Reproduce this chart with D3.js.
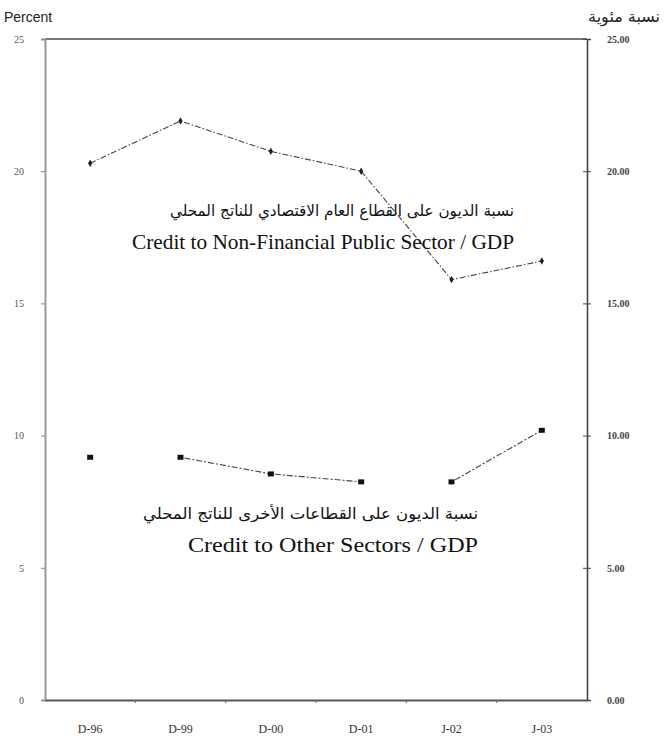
<!DOCTYPE html>
<html>
<head>
<meta charset="utf-8">
<script src="https://cdn.jsdelivr.net/npm/d3@7"></script>
<style>
  body { margin: 0; background: #fff; }
  svg { display: block; }
</style>
</head>
<body>
<svg id="chart"></svg>
<script>
const width = 664;
const height = 742;
const margin = { top: 39, right: 77, bottom: 42, left: 45 };

// data
const periods = ["D-96", "D-99", "D-00", "D-01", "J-02", "J-03"];
const publicSector = [20.3, 21.9, 20.75, 20.0, 15.9, 16.6];
const otherSectors = [9.18, 9.18, 8.55, 8.25, 8.25, 10.2];
// which neighbouring points of the other-sectors series are joined
const otherJoined = [false, true, true, false, true];

const leftTicks = [0, 5, 10, 15, 20, 25];
const rightTickLabels = ["0.00", "5.00", "10.00", "15.00", "20.00", "25.00"];

const publicLabelAr = "نسبة الديون على القطاع العام الاقتصادي للناتج المحلي";
const publicLabelEn = "Credit to Non-Financial Public Sector / GDP";
const otherLabelAr = "نسبة الديون على القطاعات الأخرى للناتج المحلي";
const otherLabelEn = "Credit to Other Sectors / GDP";

const svg = d3.select("#chart")
  .attr("width", width)
  .attr("height", height)
  .attr("viewBox", [0, 0, width, height]);

const x = d3.scaleBand()
  .domain(periods)
  .range([margin.left, width - margin.right]);

const y = d3.scaleLinear()
  .domain([0, 25])
  .range([height - margin.bottom, margin.top]);

const cx = d => x(d) + x.bandwidth() / 2;

// frame: top line
svg.append("line")
  .attr("x1", margin.left).attr("x2", width - margin.right)
  .attr("y1", y(25)).attr("y2", y(25))
  .attr("stroke", "#777").attr("stroke-width", 2);

// left axis
const gLeft = svg.append("g")
  .attr("transform", `translate(${margin.left},0)`)
  .call(d3.axisLeft(y).tickValues(leftTicks).tickSize(4).tickPadding(17).tickFormat(d3.format("d")));
gLeft.select(".domain").attr("stroke", "#999").attr("stroke-width", 2);
gLeft.selectAll(".tick line").attr("stroke", "#888");
gLeft.selectAll(".tick text")
  .attr("font-family", "Liberation Serif, serif")
  .attr("font-size", 10)
  .attr("fill", "#555");

// right axis
const gRight = svg.append("g")
  .attr("transform", `translate(${width - margin.right},0)`)
  .call(d3.axisRight(y).tickValues(leftTicks).tickSize(4).tickPadding(16)
    .tickFormat((d, i) => rightTickLabels[i]));
gRight.select(".domain").attr("stroke", "#444").attr("stroke-width", 1.6);
gRight.selectAll(".tick line").attr("x1", -4).attr("stroke", "#444");
gRight.selectAll(".tick text")
  .attr("font-family", "Liberation Serif, serif")
  .attr("font-size", 10)
  .attr("font-weight", "bold")
  .attr("fill", "#444");

// bottom axis, ticks on band edges
const gBottom = svg.append("g")
  .attr("transform", `translate(0,${y(0)})`)
  .call(d3.axisBottom(x).tickSize(0).tickPadding(24));
gBottom.select(".domain").attr("stroke", "#555").attr("stroke-width", 2);
gBottom.selectAll(".tick text")
  .attr("font-family", "Liberation Serif, serif")
  .attr("font-size", 12)
  .attr("fill", "#333");
gBottom.selectAll(".edge")
  .data(periods.slice(1))
  .join("line")
  .attr("x1", d => x(d)).attr("x2", d => x(d))
  .attr("y1", 0).attr("y2", 3)
  .attr("stroke", "#666");

// public sector series
const line = d3.line()
  .x(d => cx(d.period))
  .y(d => y(d.value));

const publicData = periods.map((p, i) => ({ period: p, value: publicSector[i] }));
const otherData = periods.map((p, i) => ({ period: p, value: otherSectors[i] }));

svg.append("path")
  .datum(publicData)
  .attr("fill", "none")
  .attr("stroke", "#444")
  .attr("stroke-width", 1.1)
  .attr("stroke-dasharray", "6,2,1.5,2")
  .attr("d", line);

svg.selectAll(".pub-dot")
  .data(publicData)
  .join("path")
  .attr("class", "pub-dot")
  .attr("d", d3.symbol(d3.symbolDiamond, 16))
  .attr("transform", d => `translate(${cx(d.period)},${y(d.value)})`)
  .attr("fill", "#222");

// other sectors series, drawn segment by segment
const otherSegments = otherJoined
  .map((joined, i) => joined ? [otherData[i], otherData[i + 1]] : null)
  .filter(s => s);

svg.selectAll(".other-seg")
  .data(otherSegments)
  .join("path")
  .attr("class", "other-seg")
  .attr("fill", "none")
  .attr("stroke", "#444")
  .attr("stroke-width", 1.1)
  .attr("stroke-dasharray", "2,2,6,2")
  .attr("d", line);

svg.selectAll(".other-dot")
  .data(otherData)
  .join("rect")
  .attr("class", "other-dot")
  .attr("x", d => cx(d.period) - 3)
  .attr("y", d => y(d.value) - 2.5)
  .attr("width", 6)
  .attr("height", 5)
  .attr("fill", "#111");

// axis titles
svg.append("text")
  .attr("x", 4)
  .attr("y", 22)
  .attr("font-family", "Liberation Sans, Arial, sans-serif")
  .attr("font-size", 14)
  .attr("fill", "#222")
  .text("Percent");

svg.append("text")
  .attr("x", 660)
  .attr("y", 22)
  .attr("text-anchor", "start")
  .attr("direction", "rtl")
  .attr("font-family", "DejaVu Sans, sans-serif")
  .attr("font-size", 16)
  .attr("fill", "#222")
  .text("نسبة مئوية");

// series labels
const labels = [
  { ar: publicLabelAr, en: publicLabelEn, value: 18.32, xEnd: 514, arLen: 344, enLen: 382 },
  { ar: otherLabelAr, en: otherLabelEn, value: 6.85, xEnd: 478, arLen: 335, enLen: 290 }
];

labels.forEach(l => {
  svg.append("text")
    .attr("x", l.xEnd)
    .attr("y", y(l.value))
    .attr("text-anchor", "start")
    .attr("direction", "rtl")
    .attr("font-family", "DejaVu Sans, sans-serif")
    .attr("font-size", 15.5)
    .attr("textLength", l.arLen)
    .attr("lengthAdjust", "spacingAndGlyphs")
    .attr("fill", "#111")
    .text(l.ar);
  svg.append("text")
    .attr("x", l.xEnd - l.enLen)
    .attr("y", y(l.value) + 33)
    .attr("font-family", "Liberation Serif, Times New Roman, serif")
    .attr("font-size", 21)
    .attr("textLength", l.enLen)
    .attr("lengthAdjust", "spacingAndGlyphs")
    .attr("fill", "#111")
    .text(l.en);
});
</script>
</body>
</html>
